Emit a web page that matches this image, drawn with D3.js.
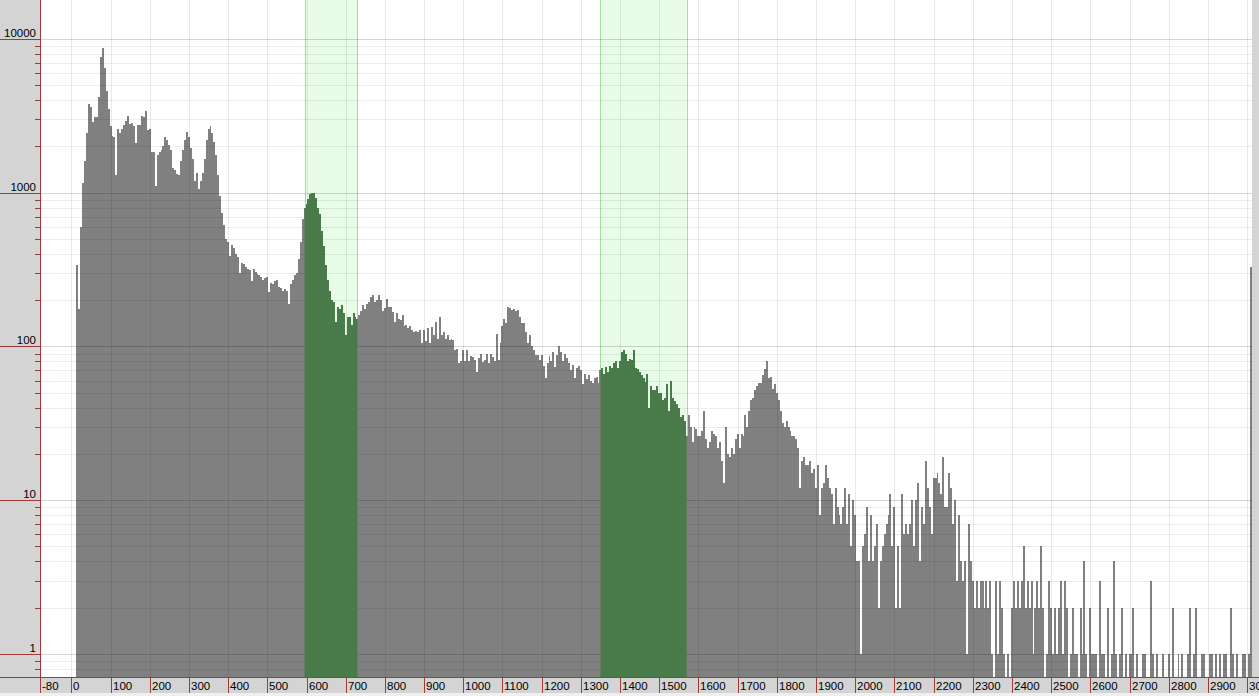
<!DOCTYPE html>
<meta charset="utf-8">
<style>
body { margin: 0; background: #fff; }
svg { display: block; font-family: "Liberation Sans", Arial, sans-serif; }
.axis text { font-size: 11.5px; fill: #000; }
.bar { shape-rendering: crispEdges; }
</style>
<body>
<svg id="chart" width="1259" height="696"></svg>
<script src="https://d3js.org/d3.v7.min.js"></script>
<script>

// histogram: bins of 5 units starting at 12.5
var binStart = 12.5;
var binWidth = 5;
var counts = [
  340, 175, 600, 1150, 1600, 2450, 3800, 3600, 2900, 3100,
  3100, 4200, 7600, 8700, 6500, 4600, 3500, 2700, 2350, 2300,
  1300, 2600, 2450, 2600, 2750, 2950, 3150, 2800, 2850, 2700,
  2100, 2750, 2750, 3150, 3100, 3400, 2550, 2600, 1850, 1850,
  1100, 1750, 1850, 1900, 2000, 2300, 2200, 2050, 1900, 1450,
  1400, 1330, 1300, 1600, 1900, 2200, 2500, 2300, 1950, 1650,
  1200, 1350, 1050, 1200, 1350, 1650, 2200, 2600, 2700, 2450,
  2150, 1750, 1300, 950, 740, 620, 500, 480, 390, 460,
  440, 400, 380, 300, 350, 345, 330, 320, 315, 265,
  320, 305, 295, 290, 285, 270, 280, 285, 225, 260,
  255, 265, 270, 245, 240, 230, 235, 230, 190, 255,
  270, 290, 300, 370, 480, 680, 800, 840, 910, 980,
  1000, 990, 920, 800, 730, 560, 450, 340, 270, 230,
  200, 195, 145, 180, 175, 185, 165, 118, 155, 155,
  138, 165, 155, 150, 160, 170, 185, 175, 190, 195,
  210, 215, 195, 200, 215, 200, 170, 178, 205, 180,
  180, 168, 145, 165, 150, 148, 160, 135, 138, 132,
  135, 128, 125, 126, 124, 128, 105, 128, 108, 132,
  106, 134, 118, 145, 112, 155, 118, 124, 112, 118,
  110, 112, 110, 95, 97, 78, 80, 95, 80, 95,
  80, 87, 85, 82, 68, 84, 90, 79, 82, 90,
  78, 90, 86, 80, 120, 82, 105, 135, 152, 142,
  180, 178, 172, 176, 170, 174, 155, 142, 142, 125,
  105, 118, 100, 95, 88, 88, 82, 88, 75, 62,
  78, 87, 80, 92, 74, 88, 100, 92, 80, 90,
  84, 78, 70, 76, 62, 72, 75, 70, 57, 66,
  61, 65, 60, 58, 62, 63, 58, 70, 72, 66,
  74, 68, 75, 72, 78, 80, 72, 80, 92, 95,
  90, 80, 83, 82, 95, 72, 71, 68, 65, 62,
  59, 66, 40, 55, 52, 52, 55, 50, 50, 45,
  46, 57, 38, 60, 46, 44, 42, 40, 35, 36,
  33, 26, 36, 30, 24, 30, 29, 26, 26, 28,
  38, 25, 22, 24, 28, 27, 26, 22, 24, 18,
  13, 30, 20, 19, 22, 20, 25, 27, 22, 27,
  26, 36, 30, 38, 45, 46, 52, 55, 58, 58,
  65, 71, 80, 62, 63, 53, 57, 50, 45, 38,
  32, 30, 33, 30, 28, 26, 26, 25, 22, 12,
  18, 19, 17, 17, 18, 15, 16, 12, 17, 8,
  12, 13, 17, 14, 12, 11, 7, 12, 9, 8,
  7, 9, 12, 7, 11, 5, 10, 8, 4, 4,
  1, 5, 6, 9, 4, 8, 4, 5, 7, 2,
  4, 5, 6, 7, 8, 11, 5, 9, 2, 5,
  2, 11, 6, 7, 6, 7, 10, 5, 10, 13,
  4, 9, 7, 18, 12, 9, 6, 14, 14, 15,
  13, 11, 19, 9, 9, 15, 12, 7, 10, 3,
  8, 4, 3, 4, 1, 7, 4, 3, 2, 3,
  2, 3, 3, 2, 3, 2, 3, 1, 0, 3,
  1, 3, 2, 1, 0, 1, 0, 2, 3, 2,
  3, 2, 3, 5, 2, 3, 2, 3, 1, 2,
  3, 2, 5, 2, 0, 1, 3, 2, 1, 2,
  1, 2, 3, 1, 3, 2, 0, 1, 2, 1,
  1, 0, 2, 1, 4, 1, 0, 2, 1, 1,
  1, 0, 3, 1, 1, 0, 2, 0, 1, 4,
  1, 0, 1, 2, 0, 1, 0, 1, 1, 2,
  0, 1, 0, 0, 1, 1, 0, 0, 3, 1,
  0, 1, 0, 0, 1, 0, 0, 1, 0, 2,
  0, 0, 1, 0, 1, 0, 0, 1, 2, 0,
  1, 2, 0, 0, 1, 1, 0, 0, 1, 1,
  0, 1, 0, 1, 0, 1, 1, 0, 0, 2,
  1, 0, 1, 0, 0, 1, 1, 0, 1, 330
];

// highlighted regions
var bandStarts = [595, 1350];
var bandEnds = [730, 1570];

// axis labels
var yLabels = [1, 10, 100, 1000, 10000];
var xLabels = [-80].concat(d3.range(0, 3001, 100));

(function() {
var W = 1259, H = 696;
var pl = 40, pr = 1252, pt = 0, pb = 677;
var red = "#a33a3a";

var svg = d3.select("#chart");

var x = d3.scaleLinear().domain([-80, 3012.5]).range([pl, pr]);
var y = d3.scaleLog().domain([0.708, 17940]).range([pb, pt]);

var bins = counts.map(function(c, i) {
  return { x0: binStart + i * binWidth, x1: binStart + (i + 1) * binWidth, n: c };
}).filter(function(d) { return d.n > 0; });

// plot background
svg.append("rect").attr("x", pl).attr("y", pt)
  .attr("width", pr - pl).attr("height", pb - pt).attr("fill", "#fff");

// green bands
var bands = bandStarts.map(function(s, i) { return [s, bandEnds[i]]; });

svg.append("defs").selectAll("clipPath")
  .data(bands).enter().append("clipPath")
  .attr("id", function(d, i) { return "band" + i; })
  .append("rect")
  .attr("x", function(d) { return x(d[0]); })
  .attr("width", function(d) { return x(d[1]) - x(d[0]); })
  .attr("y", pt).attr("height", pb - pt);

svg.selectAll(".band").data(bands).enter().append("rect")
  .attr("class", "band")
  .attr("x", function(d) { return x(d[0]); })
  .attr("width", function(d) { return x(d[1]) - x(d[0]); })
  .attr("y", pt).attr("height", pb - pt)
  .attr("fill", "#e8fce8");

bands.forEach(function(b) {
  b.forEach(function(v) {
    svg.append("line")
      .attr("x1", Math.round(x(v)) + 0.5).attr("x2", Math.round(x(v)) + 0.5)
      .attr("y1", pt).attr("y2", pb)
      .attr("stroke", "#9fe09f").attr("stroke-width", 1);
  });
});

// grey bars
function drawBars(g, color) {
  g.selectAll("rect").data(bins).enter().append("rect")
    .attr("class", "bar")
    .attr("x", function(d) { return x(d.x0); })
    .attr("width", function(d) { return x(d.x1) - x(d.x0); })
    .attr("y", function(d) { return y(d.n); })
    .attr("height", function(d) { return pb - y(d.n); })
    .attr("fill", color);
}
drawBars(svg.append("g"), "#808080");

// grid lines (drawn over grey bars)
var gridVals = [];
[0.1, 1, 10, 100, 1000, 10000].forEach(function(dec) {
  for (var m = 1; m <= 9; m++) {
    var v = m * dec;
    if (v >= 0.708 && v <= 17940) gridVals.push({ v: v, major: m === 1 });
  }
});

var grid = svg.append("g").attr("shape-rendering", "crispEdges");
grid.selectAll(".hg").data(gridVals).enter().append("line")
  .attr("x1", pl + 1).attr("x2", pr)
  .attr("y1", function(d) { return Math.round(y(d.v)) + 0.5; })
  .attr("y2", function(d) { return Math.round(y(d.v)) + 0.5; })
  .attr("stroke", function(d) { return d.major ? "rgba(0,0,0,0.16)" : "rgba(0,0,0,0.075)"; });

grid.selectAll(".vg").data(d3.range(0, 3001, 100)).enter().append("line")
  .attr("x1", function(d) { return Math.round(x(d)) + 0.5; })
  .attr("x2", function(d) { return Math.round(x(d)) + 0.5; })
  .attr("y1", pt).attr("y2", pb)
  .attr("stroke", "rgba(0,0,0,0.085)");

// green bars inside the bands
bands.forEach(function(b, i) {
  drawBars(svg.append("g").attr("clip-path", "url(#band" + i + ")"), "#497a49");
});

// side panels
svg.append("rect").attr("x", 0).attr("y", 0).attr("width", pl).attr("height", pb).attr("fill", "#d4d4d4");
svg.append("rect").attr("x", pr).attr("y", 0).attr("width", W - pr).attr("height", pb).attr("fill", "#d4d4d4");
svg.append("rect").attr("x", 0).attr("y", pb).attr("width", W).attr("height", 16).attr("fill", "#d4d4d4");
svg.append("rect").attr("x", 0).attr("y", pb + 16).attr("width", W).attr("height", H - pb - 16).attr("fill", "#efefef");

var axis = svg.append("g").attr("class", "axis").attr("shape-rendering", "crispEdges");

// y axis
axis.append("line").attr("x1", pl + 0.5).attr("x2", pl + 0.5)
  .attr("y1", 0).attr("y2", pb + 16).attr("stroke", red);

axis.selectAll(".ytick").data(gridVals).enter().append("line")
  .attr("x1", function(d) { return d.major ? 0 : pl - 5; })
  .attr("x2", pl)
  .attr("y1", function(d) { return Math.round(y(d.v)) + 0.5; })
  .attr("y2", function(d) { return Math.round(y(d.v)) + 0.5; })
  .attr("stroke", red);

axis.selectAll(".ylab").data(yLabels).enter().append("text")
  .attr("x", pl - 4)
  .attr("y", function(d) { return Math.round(y(d)) - 2; })
  .attr("text-anchor", "end")
  .text(function(d) { return d; });

// x axis
axis.append("line").attr("x1", 0).attr("x2", W)
  .attr("y1", pb + 0.5).attr("y2", pb + 0.5).attr("stroke", red);

axis.selectAll(".xtick").data(xLabels).enter().append("line")
  .attr("x1", function(d) { return Math.round(x(d)) + 0.5; })
  .attr("x2", function(d) { return Math.round(x(d)) + 0.5; })
  .attr("y1", pb).attr("y2", pb + 16)
  .attr("stroke", red);

axis.selectAll(".xlab").data(xLabels).enter().append("text")
  .attr("x", function(d) { return Math.round(x(d)) + 2; })
  .attr("y", pb + 13)
  .text(function(d) { return d; });
})();

</script>
</body>
